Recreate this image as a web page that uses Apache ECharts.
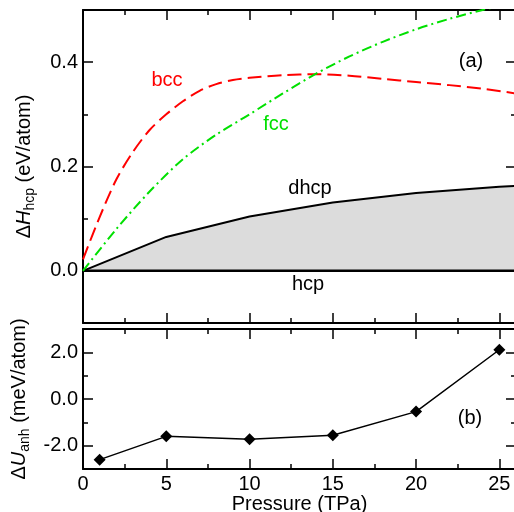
<!DOCTYPE html>
<html>
<head>
<meta charset="utf-8">
<script src="https://cdn.jsdelivr.net/npm/echarts@6/dist/echarts.min.js"></script>
<style>
  html, body { margin: 0; padding: 0; background: #fff; }
  #chart { width: 514px; height: 512px; }
</style>
</head>
<body>
<div id="chart"></div>
<script>
// Panel (a): enthalpy differences relative to hcp
const dhcpPressure = [0, 5, 10, 15, 20, 25, 26];
const dhcpEnthalpy = [0, 0.065, 0.104, 0.131, 0.149, 0.161, 0.163];

const hcpPressure = [0, 26];
const hcpEnthalpy = [0, 0];

const bccPressure = [0, 1, 2, 3, 4, 5, 6, 7, 8, 9, 10, 12, 14, 16, 18, 20, 22, 24, 26];
const bccEnthalpy = [0.022, 0.103, 0.175, 0.228, 0.27, 0.30, 0.325, 0.345, 0.358, 0.366, 0.370,
                     0.375, 0.377, 0.374, 0.368, 0.362, 0.356, 0.349, 0.340];

const fccPressure = [0, 2, 4, 6, 8, 10, 12, 14, 16, 18, 20, 22, 24, 26];
const fccEnthalpy = [0, 0.08, 0.152, 0.214, 0.261, 0.300, 0.340, 0.378, 0.411, 0.439, 0.463, 0.483, 0.500, 0.515];

// Panel (b): anharmonic energy difference
const anhPressure = [1, 5, 10, 15, 20, 25];
const anhEnergy = [-2.6, -1.6, -1.72, -1.55, -0.54, 2.11];

// Tick values
const xMajor = [0, 5, 10, 15, 20, 25];
const xMinor = [2.5, 7.5, 12.5, 17.5, 22.5];
const yTopMajor = [0, 0.2, 0.4];
const yTopMinor = [0.1, 0.3];
const yBotMajor = [-2, 0, 2];
const yBotMinor = [-1, 1];

const FONT = '"Liberation Sans", Arial, Helvetica, sans-serif';
const FS = 20;

const pairs = (xs, ys) => xs.map((x, i) => [x, ys[i]]);

function xAxisDef(gridIndex, position, ticks, tickLen, showLabels, lineShow) {
  return {
    type: 'value', gridIndex, position, min: 0, max: 26,
    axisLine: { show: lineShow, onZero: false, lineStyle: { color: '#000', width: 2 } },
    axisTick: { show: true, inside: true, length: tickLen, customValues: ticks,
                lineStyle: { color: '#000', width: 1.5 } },
    axisLabel: { show: showLabels, customValues: ticks, margin: 5, color: '#000',
                 fontFamily: FONT, fontSize: FS },
    splitLine: { show: false }
  };
}

function yAxisDef(gridIndex, position, min, max, ticks, tickLen, showLabels, lineShow) {
  return {
    type: 'value', gridIndex, position, min, max,
    axisLine: { show: lineShow, onZero: false, lineStyle: { color: '#000', width: 2 } },
    axisTick: { show: true, inside: true, length: tickLen, customValues: ticks,
                lineStyle: { color: '#000', width: 1.5 } },
    axisLabel: { show: showLabels, customValues: ticks, margin: 5, color: '#000',
                 fontFamily: FONT, fontSize: FS, formatter: v => v.toFixed(1) },
    splitLine: { show: false }
  };
}

const chart = echarts.init(document.getElementById('chart'), null, { renderer: 'canvas' });

const nameStyle = {
  fontFamily: FONT,
  rich: {
    n: { fontFamily: FONT, fontSize: FS, color: '#000', lineHeight: 26 },
    i: { fontFamily: FONT, fontSize: FS, color: '#000', fontStyle: 'italic', lineHeight: 26 },
    s: { fontFamily: FONT, fontSize: 14, color: '#000', verticalAlign: 'bottom', lineHeight: 14 }
  }
};

const yTopLeft = yAxisDef(0, 'left', -0.1, 0.5, yTopMajor, 10, true, true);
yTopLeft.name = '{n|Δ}{i|H}{s|hcp}{n| (eV/atom)}';
yTopLeft.nameLocation = 'middle';
yTopLeft.nameGap = 46;
yTopLeft.nameTextStyle = nameStyle;

const yBotLeft = yAxisDef(1, 'left', -3, 3, yBotMajor, 10, true, true);
yBotLeft.name = '{n|Δ}{i|U}{s|anh}{n| (meV/atom)}';
yBotLeft.nameLocation = 'middle';
yBotLeft.nameGap = 46;
yBotLeft.nameTextStyle = nameStyle;

const xBot = xAxisDef(1, 'bottom', xMajor, 10, true, true);
xBot.name = 'Pressure (TPa)';
xBot.nameLocation = 'middle';
xBot.nameGap = 24;
xBot.nameTextStyle = { fontFamily: FONT, fontSize: FS, color: '#000' };

const option = {
  animation: false,
  backgroundColor: '#fff',
  grid: [
    { left: 83, top: 10, right: -2, height: 313, containLabel: false, outerBoundsMode: 'none' },
    { left: 83, top: 329, right: -2, height: 140, containLabel: false, outerBoundsMode: 'none' }
  ],
  xAxis: [
    xAxisDef(0, 'bottom', xMajor, 10, false, true),
    xAxisDef(0, 'top', xMajor, 10, false, true),
    xBot,
    xAxisDef(1, 'top', xMajor, 10, false, true),
    xAxisDef(0, 'bottom', xMinor, 5, false, false),
    xAxisDef(0, 'top', xMinor, 5, false, false),
    xAxisDef(1, 'bottom', xMinor, 5, false, false),
    xAxisDef(1, 'top', xMinor, 5, false, false)
  ],
  yAxis: [
    yTopLeft,
    yAxisDef(0, 'right', -0.1, 0.5, yTopMajor, 10, false, true),
    yAxisDef(0, 'left', -0.1, 0.5, yTopMinor, 5, false, false),
    yAxisDef(0, 'right', -0.1, 0.5, yTopMinor, 5, false, false),
    yBotLeft,
    yAxisDef(1, 'right', -3, 3, yBotMajor, 10, false, true),
    yAxisDef(1, 'left', -3, 3, yBotMinor, 5, false, false),
    yAxisDef(1, 'right', -3, 3, yBotMinor, 5, false, false)
  ],
  series: [
    {
      name: 'dhcp', type: 'line', xAxisIndex: 0, yAxisIndex: 0,
      data: pairs(dhcpPressure, dhcpEnthalpy), showSymbol: false,
      lineStyle: { color: '#000', width: 2 },
      areaStyle: { color: '#dcdcdc', opacity: 1, origin: 0 },
      z: 2
    },
    {
      name: 'hcp', type: 'line', xAxisIndex: 0, yAxisIndex: 0,
      data: pairs(hcpPressure, hcpEnthalpy), showSymbol: false,
      lineStyle: { color: '#000', width: 2.5 }, z: 3
    },
    {
      name: 'bcc', type: 'line', xAxisIndex: 0, yAxisIndex: 0,
      data: pairs(bccPressure, bccEnthalpy), showSymbol: false, smooth: 0.3,
      lineStyle: { color: '#ff0000', width: 2, type: [14, 6] }, z: 4
    },
    {
      name: 'fcc', type: 'line', xAxisIndex: 0, yAxisIndex: 0,
      data: pairs(fccPressure, fccEnthalpy), showSymbol: false, smooth: 0.3,
      lineStyle: { color: '#00e000', width: 2, type: [10, 4, 2, 4] }, z: 4
    },
    {
      name: 'anh', type: 'line', xAxisIndex: 2, yAxisIndex: 4,
      data: pairs(anhPressure, anhEnergy),
      symbol: 'diamond', symbolSize: 12,
      itemStyle: { color: '#000' },
      lineStyle: { color: '#000', width: 1.5 }, z: 4
    }
  ],
  graphic: [
    { type: 'text', x: 167, y: 80, style: { text: 'bcc', fill: '#ff0000', font: `${FS}px ${FONT}`, align: 'center', verticalAlign: 'middle' } },
    { type: 'text', x: 276, y: 124, style: { text: 'fcc', fill: '#00e000', font: `${FS}px ${FONT}`, align: 'center', verticalAlign: 'middle' } },
    { type: 'text', x: 310, y: 188, style: { text: 'dhcp', fill: '#000', font: `${FS}px ${FONT}`, align: 'center', verticalAlign: 'middle' } },
    { type: 'text', x: 340, y: 242, style: { text: 'hcp-dhcp continuum', fill: '#000', font: `${FS}px ${FONT}`, align: 'center', verticalAlign: 'middle' } },
    { type: 'text', x: 308, y: 284, style: { text: 'hcp', fill: '#000', font: `${FS}px ${FONT}`, align: 'center', verticalAlign: 'middle' } },
    { type: 'text', x: 471, y: 61, style: { text: '(a)', fill: '#000', font: `${FS}px ${FONT}`, align: 'center', verticalAlign: 'middle' } },
    { type: 'text', x: 470, y: 418, style: { text: '(b)', fill: '#000', font: `${FS}px ${FONT}`, align: 'center', verticalAlign: 'middle' } }
  ]
};

chart.setOption(option);
</script>
</body>
</html>
